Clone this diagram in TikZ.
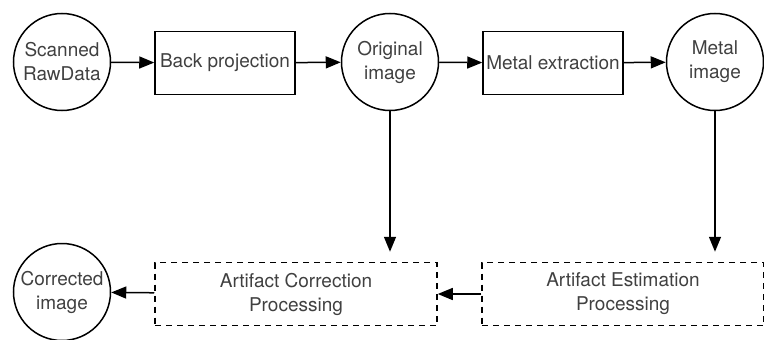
\documentclass[tikz,border=0pt]{standalone}
\usepackage{fontspec}
\setmainfont{TeX Gyre Heros}
\usetikzlibrary{arrows.meta}

\begin{document}
\begin{tikzpicture}[x=1pt,y=-1pt,
        every node/.style={font=\fontsize{19}{24}\selectfont,text=black!75,align=center},
        datanode/.style={draw,circle,line width=1.5pt,minimum size=97pt,inner sep=0pt},
        procbox/.style={draw,rectangle,line width=1.5pt,minimum width=140pt,minimum height=63pt,inner sep=2pt},
        dashbox/.style={draw,rectangle,line width=1.5pt,dash pattern=on 6pt off 5pt,minimum width=282pt,minimum height=63pt},
        flow/.style={line width=1.5pt,-{Triangle[length=15pt,width=12pt]}}]
        \useasboundingbox (0,0) rectangle (764,340);

        % top row
        \node[datanode] (scan) at (62,62) {Scanned\\RawData};
        \node[procbox] (backproj) at (225,63) {Back projection};
        \node[datanode] (orig) at (390,62) {Original\\image};
        \node[procbox] (metalext) at (553,63) {Metal extraction};
        \node[datanode] (metal) at (715,62) {Metal\\image};

        % bottom row
        \node[datanode] (corrimg) at (62,292) {Corrected\\image};
        \node[dashbox] (artcorr) at (296,294) {Artifact Correction\\Processing};
        \node[dashbox] (artest) at (623,294) {Artifact Estimation\\Processing};

        \draw[flow] (scan) -- (backproj);
        \draw[flow] (backproj) -- (orig);
        \draw[flow] (orig) -- (metalext);
        \draw[flow] (metalext) -- (metal);
        \draw[flow,shorten >=10pt] (orig) -- (orig |- artcorr.north);
        \draw[flow,shorten >=10pt] (metal) -- (metal |- artest.north);
        \draw[flow] (artest) -- (artcorr);
        \draw[flow] (artcorr) -- (corrimg);
    \end{tikzpicture}
\end{document}
